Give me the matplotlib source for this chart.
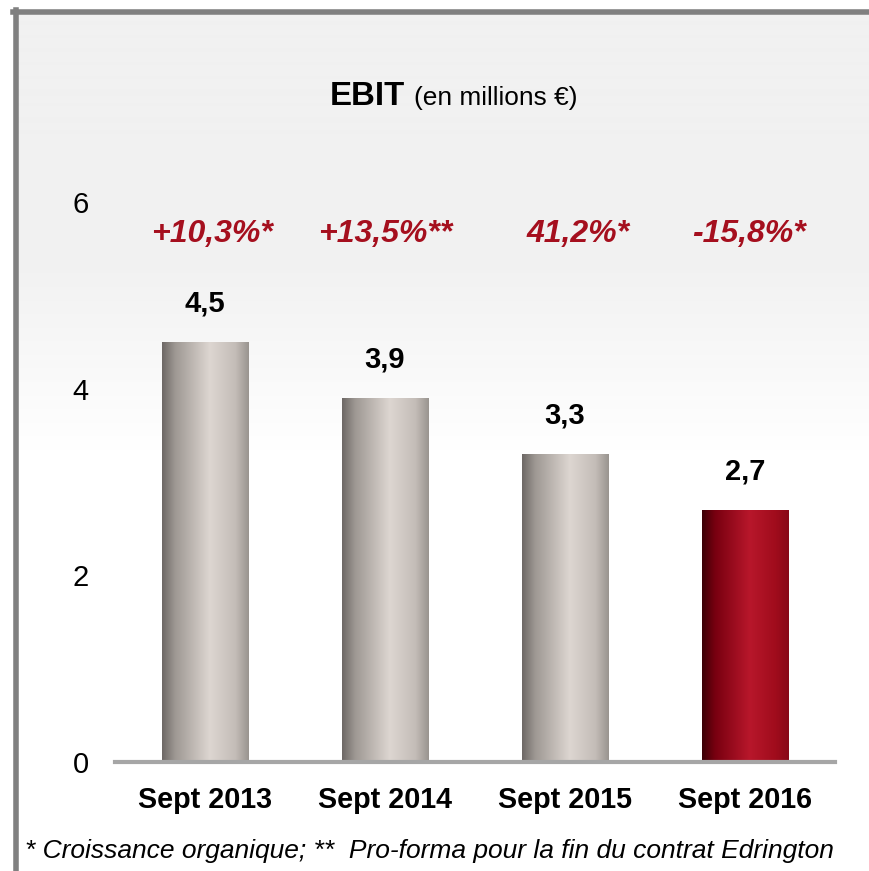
import matplotlib
matplotlib.use('Agg')
import matplotlib.pyplot as plt
import numpy as np
from matplotlib.colors import LinearSegmentedColormap
from matplotlib.lines import Line2D

categories = ['Sept 2013', 'Sept 2014', 'Sept 2015', 'Sept 2016']
ebit = [4.5, 3.9, 3.3, 2.7]
value_labels = ['4,5', '3,9', '3,3', '2,7']
growth_labels = ['+10,3%*', '+13,5%**', '41,2%*', '-15,8%*']
yticks = [0, 2, 4, 6]

plt.rcParams['font.family'] = ['Liberation Sans', 'DejaVu Sans']

W, H = 869, 871
fig = plt.figure(figsize=(W / 100, H / 100), dpi=100)

# background: light gray panel fading to white, grey frame top/left
bg = fig.add_axes([0, 0, 1, 1], zorder=-10)
rows = np.arange(H)
shade = np.interp(rows, [0, 260, 450, H], [241, 241, 255, 255]) / 255.0
img = np.ones((H, W, 3))
img[:, :, :] = shade[:, None, None]
img[:13, :, :] = 1.0
img[:, :16, :] = 1.0
bg.imshow(img, extent=[0, W, H, 0], aspect='auto', interpolation='bilinear')
bg.set_xlim(0, W)
bg.set_ylim(H, 0)
bg.axis('off')
bg.add_line(Line2D([13, W], [12.5, 12.5], color='#808080', lw=4))
bg.add_line(Line2D([15.5, 15.5], [10, H], color='#808080', lw=4))

ax = fig.add_axes([115 / W, (H - 762) / H, 720 / W, 588 / H])
ax.patch.set_alpha(0)

x = np.arange(len(categories))
colors = ['#c8c1bc', '#c8c1bc', '#c8c1bc', '#a50f1e']
bars = ax.bar(x, ebit, width=0.48, color=colors, zorder=2)

# cylinder look: horizontal gradient clipped to each bar
gray_cm = LinearSegmentedColormap.from_list('g', [
    (0, '#6d6865'), (0.15, '#9e9893'), (0.55, '#ddd6d1'),
    (0.85, '#c3bcb7'), (1, '#99948f')])
red_cm = LinearSegmentedColormap.from_list('r', [
    (0, '#3c0006'), (0.15, '#780010'), (0.55, '#b8172b'),
    (0.85, '#a00c1c'), (1, '#880818')])
grad = np.linspace(0, 1, 256)[None, :]
for i, b in enumerate(bars):
    cm = red_cm if i == 3 else gray_cm
    im = ax.imshow(grad, cmap=cm, aspect='auto', zorder=3,
                   extent=[b.get_x(), b.get_x() + b.get_width(), 0, b.get_height()])
    im.set_clip_path(b)

for i, b in enumerate(bars):
    ax.annotate(value_labels[i], (b.get_x() + b.get_width() / 2, b.get_height()),
                xytext=(0, 28), textcoords='offset points', ha='center', va='center',
                fontsize=21, fontweight='bold', color='black')

for i, lab in enumerate(growth_labels):
    ax.text(x[i] + [0.04, 0, 0.07, 0.02][i], 5.57, lab, ha='center', va='baseline',
            fontsize=23, fontweight='bold', fontstyle='italic', color='#a50f1e')

ax.set_xlim(-0.5, 3.5)
ax.set_ylim(0, 6.3)
ax.set_yticks(yticks)
ax.set_yticklabels([str(v) for v in yticks], fontsize=21)
ax.set_xticks(x)
ax.set_xticklabels(categories, fontsize=20.7, fontweight='bold')
ax.tick_params(axis='y', length=0, pad=19)
ax.tick_params(axis='x', length=0, pad=17)
for s in ['top', 'right', 'left']:
    ax.spines[s].set_visible(False)
ax.spines['bottom'].set_color('#a6a6a6')
ax.spines['bottom'].set_linewidth(3)
ax.spines['bottom'].set_zorder(4)

fig.text(405 / W, 1 - 105 / H, 'EBIT', ha='right', va='baseline',
         fontsize=23.8, fontweight='bold')
fig.text(414 / W, 1 - 105 / H, '(en millions €)', ha='left', va='baseline',
         fontsize=18.9)
fig.text(25 / W, 1 - 858 / H,
         '* Croissance organique; **  Pro-forma pour la fin du contrat Edrington',
         ha='left', va='baseline', fontsize=19, fontstyle='italic')

fig.savefig('out.png', dpi=100)
